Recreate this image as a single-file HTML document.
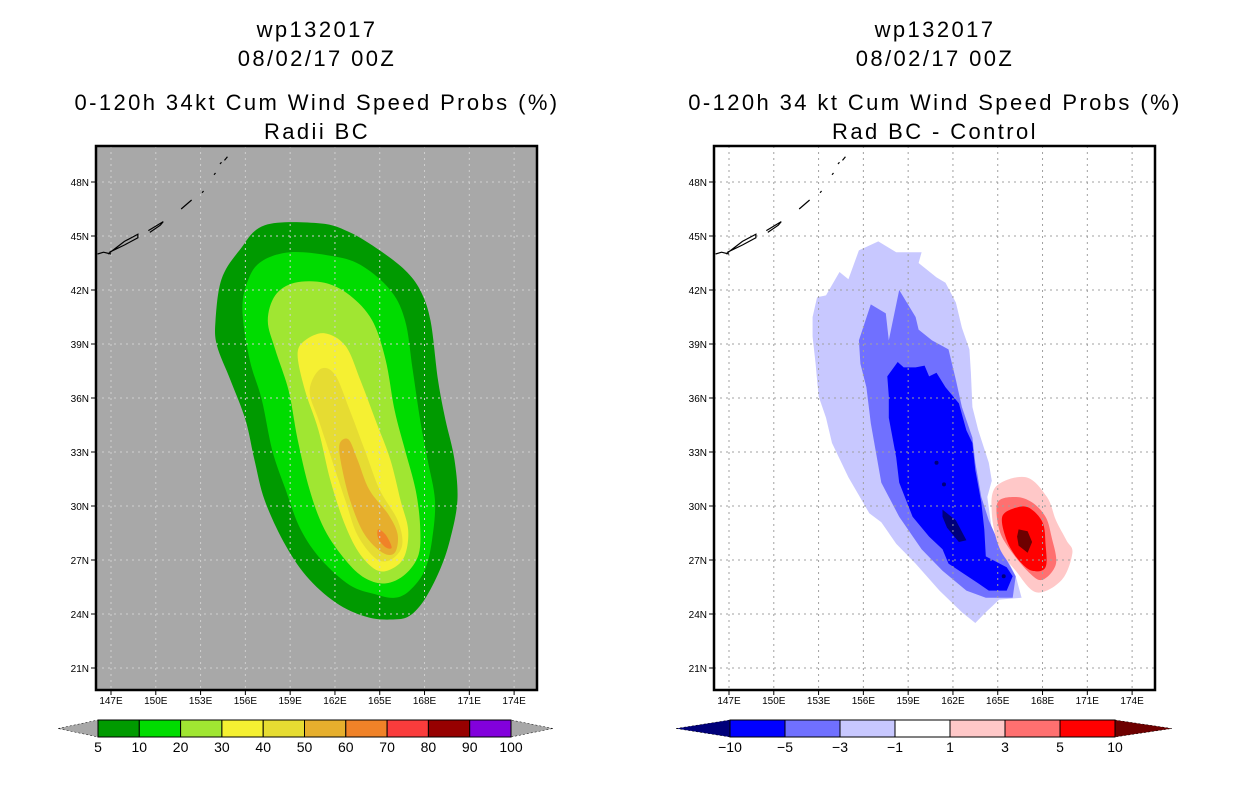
<!DOCTYPE html>
<html><head><meta charset="utf-8"><style>
html,body{margin:0;padding:0;background:#fff;}
svg{display:block;font-family:"Liberation Sans",sans-serif;}
</style></head><body>
<svg id="chart" width="1236" height="800" viewBox="0 0 1236 800"></svg>
<script>
// ---- data ----
const lonTicks = [147,150,153,156,159,162,165,168,171,174];
const latTicks = [21,24,27,30,33,36,39,42,45,48];
const leftLevels = ["5","10","20","30","40","50","60","70","80","90","100"];
const leftColors = ["#009a00","#00dc00","#a0e632","#f5f032","#e6dc32","#e6af2d","#f08228","#fa3c3c","#960000","#8200dc"];
const rightLevels = ["-10","-5","-3","-1","1","3","5","10"];
const rightColors = ["#0000ff","#7070ff","#c8c8ff","#ffffff","#ffc8c8","#ff7070","#ff0000"];
const rightLow = "#00007a", rightHigh = "#6e0000";

const left5 = [[154.0,40.3],[154.4,42.6],[155.6,44.2],[157.3,45.6],[161.0,45.7],[163.0,45.2],[165.0,44.2],[166.7,43.1],[167.7,42.0],[168.4,40.3],[168.9,37.0],[169.4,34.8],[170.0,32.6],[170.2,30.3],[169.7,28.1],[169.0,26.4],[168.0,24.8],[167.0,23.9],[166.0,23.7],[164.3,23.8],[162.3,24.5],[160.3,25.9],[158.7,27.8],[157.3,30.3],[156.6,32.6],[156.0,34.8],[155.0,37.0],[154.1,38.9]];
const left10 = [[155.8,40.9],[156.2,42.6],[157.1,43.6],[159.0,44.1],[161.7,43.9],[163.7,43.4],[165.7,42.0],[166.7,40.3],[167.2,37.6],[167.7,34.8],[168.2,32.6],[168.7,30.3],[168.5,28.1],[168.0,26.4],[167.0,25.3],[166.0,24.9],[164.7,25.1],[163.0,25.6],[161.1,27.0],[159.7,28.7],[158.7,30.9],[157.8,33.1],[157.1,35.9],[156.3,38.1]];
const left20 = [[157.5,40.3],[158.0,41.7],[159.3,42.4],[161.3,42.4],[163.0,41.7],[164.5,40.3],[165.4,38.1],[166.0,35.3],[166.7,33.1],[167.4,30.9],[167.7,28.9],[167.6,27.3],[166.7,26.2],[165.4,25.7],[164.0,26.0],[162.7,27.0],[161.3,28.7],[160.3,30.9],[159.5,33.7],[158.9,36.4],[158.0,38.7]];
const left30 = [[159.5,38.4],[160.0,39.2],[161.3,39.6],[162.7,38.9],[163.7,37.0],[164.7,34.8],[165.7,32.6],[166.4,30.3],[166.9,28.7],[166.7,27.3],[166.0,26.6],[164.9,26.4],[163.7,27.3],[162.7,28.9],[161.7,31.4],[160.9,34.2],[160.0,36.4]];
const left40 = [[160.3,36.4],[161.0,37.6],[162.0,37.3],[163.0,35.3],[164.0,33.1],[165.0,30.9],[166.2,29.2],[166.5,27.8],[165.7,27.0],[164.7,27.1],[163.5,28.4],[162.7,30.3],[161.7,32.8],[160.9,34.8]];
const left50 = [[162.3,33.4],[162.9,33.7],[163.5,32.6],[164.3,30.9],[165.6,29.5],[166.2,28.4],[166.0,27.4],[165.2,27.4],[164.0,28.4],[163.1,30.1],[162.5,32.0]];
const left60 = [[164.9,28.7],[165.4,28.4],[165.8,27.7],[165.4,27.7],[164.9,28.2]];

const rightM1 = [[152.6,40.5],[152.9,41.6],[153.5,41.7],[154.4,43.0],[155.0,42.6],[155.7,44.2],[157.0,44.7],[158.2,44.1],[159.1,44.1],[159.9,44.1],[159.7,43.5],[160.9,42.7],[161.5,42.4],[162.2,41.3],[162.6,39.9],[163.1,38.7],[163.2,37.4],[163.3,35.5],[163.7,34.2],[164.4,32.4],[164.6,31.4],[164.3,30.5],[164.6,28.7],[165.3,27.6],[166.2,26.1],[166.6,24.9],[165.1,24.8],[164.2,24.1],[163.5,23.5],[162.6,24.1],[161.1,25.3],[159.5,26.8],[158.2,27.9],[157.2,29.1],[156.4,29.6],[155.0,31.6],[153.9,33.5],[153.5,34.9],[153.0,36.1],[152.8,37.9],[152.6,39.4]];
const rightM3 = [[155.7,39.2],[156.5,41.2],[157.5,40.7],[157.7,39.2],[158.4,42.0],[159.5,40.5],[159.7,39.8],[160.6,39.2],[161.7,38.7],[162.2,37.0],[162.6,35.5],[163.3,33.8],[163.5,32.4],[163.9,30.5],[164.4,29.2],[165.1,27.9],[165.6,27.0],[166.2,26.1],[166.0,24.9],[164.2,24.9],[162.9,25.3],[161.3,26.4],[159.9,27.6],[158.4,29.4],[157.2,31.3],[156.5,34.6],[156.2,36.6],[155.8,37.9]];
const rightM5 = [[157.6,37.2],[158.3,38.0],[158.7,37.7],[159.5,37.7],[160.1,37.8],[160.4,37.2],[160.9,37.4],[161.5,36.6],[162.4,35.7],[162.9,34.2],[163.3,33.5],[163.5,32.0],[163.9,30.2],[164.1,28.7],[164.2,27.2],[165.6,26.6],[166.0,26.1],[165.6,25.3],[164.4,25.3],[163.7,25.7],[161.7,26.8],[161.3,27.6],[160.4,28.3],[159.3,29.4],[158.4,31.3],[158.2,32.7],[157.7,34.9],[157.7,36.1]];
const rightM10 = [[161.3,29.8],[162.2,29.2],[162.9,28.1],[162.4,28.0],[161.6,28.8],[161.3,29.4]];
const rightM10dots = [[160.9,32.4],[161.4,31.2],[165.4,26.1]];
const rightP1 = [[164.9,31.1],[166.9,31.6],[168.3,30.5],[168.9,29.2],[169.6,28.1],[170.0,27.4],[169.3,25.9],[167.6,25.2],[166.2,26.4],[165.1,27.7],[164.6,29.6]];
const rightP3 = [[165.0,30.2],[166.2,30.5],[167.3,30.2],[168.2,29.4],[168.6,28.3],[168.9,26.8],[168.0,25.9],[167.1,26.3],[165.8,27.6],[165.1,28.7]];
const rightP5 = [[165.3,29.4],[166.2,29.9],[167.1,29.9],[168.0,29.1],[168.2,27.9],[168.2,26.6],[167.3,26.4],[166.4,27.0],[165.6,28.1]];
const rightP10 = [[166.4,28.7],[167.0,28.6],[167.3,28.0],[167.0,27.4],[166.4,27.8],[166.3,28.3]];

const islands = [
 [[146.1,44.0],[146.5,44.1],[147.0,44.0]],
 [[146.8,44.0],[147.9,44.7],[148.8,45.1],[148.8,44.9],[147.9,44.5],[146.9,44.1]],
 [[149.5,45.3],[150.5,45.8],[150.3,45.6],[149.6,45.2]],
 [[151.7,46.5],[152.4,47.0]],
 [[153.1,47.4],[153.2,47.5]],
 [[153.9,48.4],[154.0,48.5]],
 [[154.3,49.0],[154.4,49.1]],
 [[154.6,49.2],[154.8,49.4]]
];
const leftTitles = ["wp132017","08/02/17 00Z","0-120h 34kt Cum Wind Speed Probs (%)","Radii BC"];
const rightTitles = ["wp132017","08/02/17 00Z","0-120h 34 kt Cum Wind Speed Probs (%)","Rad BC - Control"];

// ---- drawing ----
const NS="http://www.w3.org/2000/svg";
const svg=document.getElementById('chart');
function mk(tag,attrs,parent){const e=document.createElementNS(NS,tag);for(const k in attrs)e.setAttribute(k,attrs[k]);(parent||svg).appendChild(e);return e;}
function xScale(off){return lon=>off+111+(lon-147)*14.93;}
function yScale(lat){return 182+(48-lat)*18;}

function panel(off,bg,name){
  const X=xScale(off);
  const g=mk('g',{});
  
  
  const clipId='clip'+off;
  const cp=mk('clipPath',{id:clipId},g);
  mk('rect',{x:off+96,y:146,width:441,height:544},cp);
  const bgr=mk('rect',{x:off+96,y:146,width:441,height:544,fill:bg},g);
  
  
  const inner=mk('g',{'clip-path':'url(#'+clipId+')'},g);
  return {g,inner,X};
}
function poly(p,pts,fill,nm){
  const e=mk('polygon',{points:pts.map(q=>p.X(q[0]).toFixed(1)+','+yScale(q[1]).toFixed(1)).join(' '),fill:fill},p.inner);
  
  
}
function smooth(p,pts,fill,nm){
  const P=pts.map(q=>[p.X(q[0]),yScale(q[1])]);
  const n=P.length;let d='M'+P[0][0].toFixed(1)+','+P[0][1].toFixed(1);
  for(let i=0;i<n;i++){
    const p0=P[(i-1+n)%n],p1=P[i],p2=P[(i+1)%n],p3=P[(i+2)%n];
    const c1=[p1[0]+(p2[0]-p0[0])/6,p1[1]+(p2[1]-p0[1])/6];
    const c2=[p2[0]-(p3[0]-p1[0])/6,p2[1]-(p3[1]-p1[1])/6];
    d+=' C'+c1.map(v=>v.toFixed(1)).join(',')+' '+c2.map(v=>v.toFixed(1)).join(',')+' '+p2.map(v=>v.toFixed(1)).join(',');
  }
  const e=mk('path',{d:d+'Z',fill:fill},p.inner);
  
  
}
function grid(p,color,off){
  lonTicks.forEach(l=>{const e=mk('line',{x1:p.X(l),x2:p.X(l),y1:146,y2:690,stroke:color,'stroke-width':1,'stroke-dasharray':'2,4'},p.inner);
    });
  latTicks.forEach(l=>{const e=mk('line',{x1:off+96,x2:off+537,y1:yScale(l),y2:yScale(l),stroke:color,'stroke-width':1,'stroke-dasharray':'2,4'},p.inner);
    });
}
function coast(p){
  islands.forEach((isl,i)=>{const e=mk('polyline',{points:isl.map(q=>p.X(q[0])+','+yScale(q[1])).join(' '),fill:'none',stroke:'#000','stroke-width':1.2},p.inner);
    });
}
function frameAxes(p,off,titles){
  const f=mk('rect',{x:off+96,y:146,width:441,height:544,fill:'none',stroke:'#000','stroke-width':2.5},p.g);
  
  lonTicks.forEach(l=>{
    mk('line',{x1:p.X(l),x2:p.X(l),y1:690,y2:695,stroke:'#000','stroke-width':1},p.g);
    const t=mk('text',{x:p.X(l),y:704,'font-size':10,'text-anchor':'middle',fill:'#000'},p.g);
    t.textContent=l+'E';
    
  });
  latTicks.forEach(l=>{
    mk('line',{x1:off+91,x2:off+96,y1:yScale(l),y2:yScale(l),stroke:'#000','stroke-width':1},p.g);
    const t=mk('text',{x:off+89,y:yScale(l)+4,'font-size':10,'text-anchor':'end',fill:'#000'},p.g);
    t.textContent=l+'N';
    
  });
  const ys=[37,66,110,139];
  titles.forEach((s,i)=>{
    const t=mk('text',{x:off+317,y:ys[i],'font-size':22,'text-anchor':'middle',fill:'#000','letter-spacing':'2.4'},p.g);
    t.textContent=s;
    
  });
}

// Left panel
const L=panel(0,'#a8a8a8','left-map-panel');
[left5,left10,left20,left30,left40,left50,left60].forEach((pts,i)=>smooth(L,pts,leftColors[i],'contour-'+leftLevels[i]));
grid(L,'#cfcfcf',0);
coast(L);
frameAxes(L,0,leftTitles);

// Right panel
const R=panel(618,'#ffffff','right-map-panel');
poly(R,rightM1,rightColors[2],'contour-minus-1');
poly(R,rightM3,rightColors[1],'contour-minus-3');
poly(R,rightM5,rightColors[0],'contour-minus-5');
poly(R,rightM10,rightLow,'contour-minus-10');
rightM10dots.forEach(q=>{const e=mk('circle',{cx:R.X(q[0]),cy:yScale(q[1]),r:2,fill:rightLow},R.inner);
  });
smooth(R,rightP1,rightColors[4],'contour-plus-1');
smooth(R,rightP3,rightColors[5],'contour-plus-3');
smooth(R,rightP5,rightColors[6],'contour-plus-5');
poly(R,rightP10,rightHigh,'contour-plus-10');
grid(R,'#a0a0a0',618);
coast(R);
frameAxes(R,618,rightTitles);

// Colorbars
function colorbar(x0,x1,tipL,tipR,colors,levels,leftTri,rightTri,name){
  const g=mk('g',{});
  
  const y0=720,y1=737,ym=728.5,w=(x1-x0)/colors.length;
  mk('polygon',{points:`${tipL},${ym} ${x0},${y0} ${x0},${y1}`,fill:leftTri,stroke:'#000','stroke-width':0.5,'stroke-dasharray':'2,2'},g);
  mk('polygon',{points:`${tipR},${ym} ${x1},${y0} ${x1},${y1}`,fill:rightTri,stroke:'#000','stroke-width':0.5,'stroke-dasharray':'2,2'},g);
  colors.forEach((c,i)=>{const r=mk('rect',{x:x0+i*w,y:y0,width:w,height:y1-y0,fill:c,stroke:'#000','stroke-width':1},g);
    });
  levels.forEach((s,i)=>{const t=mk('text',{x:x0+i*w,y:752,'font-size':14,'text-anchor':'middle',fill:'#000'},g);
    t.textContent=s.replace('-','\u2212');
    });
}
colorbar(98,511,58,553,leftColors,leftLevels,'#a8a8a8','#a8a8a8','left-colorbar');
colorbar(730,1115,676,1172,rightColors,rightLevels,rightLow,rightHigh,'right-colorbar');
</script>
</body></html>
